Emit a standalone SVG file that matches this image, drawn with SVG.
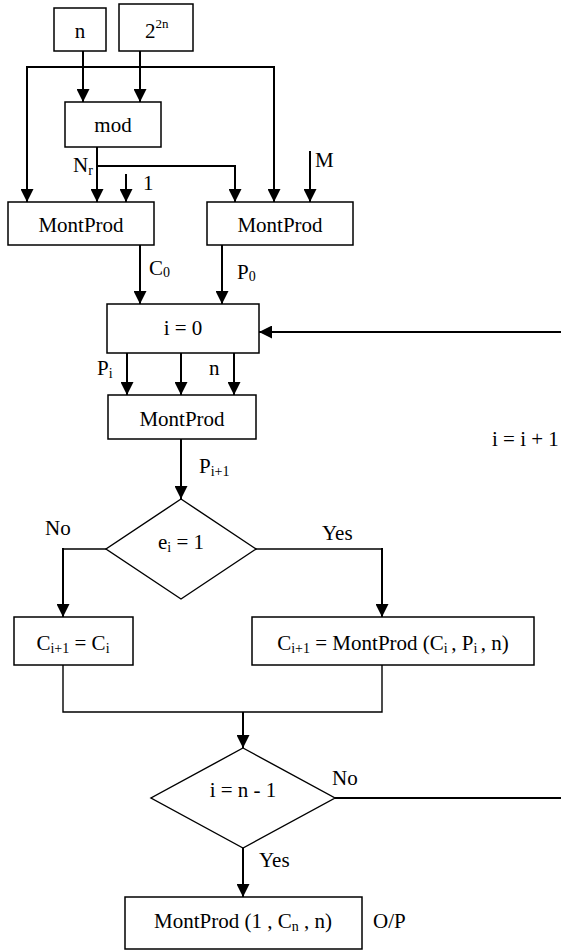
<svg xmlns="http://www.w3.org/2000/svg" width="561" height="951" viewBox="0 0 561 951" font-family="'Liberation Serif', 'Times New Roman', serif">
  <defs>
    <marker id="arrow" markerUnits="userSpaceOnUse" markerWidth="13" markerHeight="13" refX="13" refY="6.5" orient="auto">
      <path d="M0,0 L13,6.5 L0,13 Z" fill="#000"/>
    </marker>
    <style>
      text { font-family: "Liberation Serif", "Times New Roman", serif; font-size: 21px; fill: #000; }
      .mid { text-anchor: middle; }
      .box { fill: #fff; stroke: #000; stroke-width: 1.5; }
      .flow { fill: none; stroke: #000; stroke-width: 2; }
      .thin { fill: none; stroke: #000; stroke-width: 1.4; }
      .arr { marker-end: url(#arrow); }
      .sub { font-size: 14px; }
      .sup { font-size: 13px; }
    </style>
  </defs>

  <rect width="561" height="951" fill="#fff"/>

  <!-- connectors -->
  <g id="connectors">
    <path class="flow arr" d="M83,51 V102"/>
    <path class="flow arr" d="M140,51 V102"/>
    <path class="flow arr" d="M27,202 V67 H274 V202"/>
    <path class="flow arr" d="M27,67 V202"/>
    <path class="flow arr" d="M97,147 V202"/>
    <path class="flow arr" d="M97,166 H235 V202"/>
    <path class="flow arr" d="M126,174 V202"/>
    <path class="flow arr" d="M310,151 V202"/>
    <path class="flow arr" d="M140,245 V304"/>
    <path class="flow arr" d="M222,245 V304"/>
    <path class="flow arr" d="M561,332 H259"/>
    <path class="flow arr" d="M127,353 V395"/>
    <path class="flow arr" d="M181,353 V395"/>
    <path class="flow arr" d="M234,353 V395"/>
    <path class="flow arr" d="M181,439 V499"/>
    <path class="thin" d="M106,549 H63"/>
    <path class="flow arr" d="M63,548 V617"/>
    <path class="thin" d="M256,549 H382"/>
    <path class="flow arr" d="M382,548 V617"/>
    <path class="thin" d="M63,665 V712 H382 V665"/>
    <path class="flow arr" d="M243,712 V748"/>
    <path class="flow" d="M335,798 H561"/>
    <path class="flow arr" d="M243,848 V897"/>
  </g>

  <!-- connector labels -->
  <g id="labels">
    <text x="73" y="172">N<tspan class="sub" dy="3">r</tspan></text>
    <text x="143" y="190">1</text>
    <text x="315" y="167">M</text>
    <text x="149" y="275">C<tspan class="sub" dy="2">0</tspan></text>
    <text x="237" y="279">P<tspan class="sub" dy="2">0</tspan></text>
    <text x="97" y="375">P<tspan class="sub" dy="3">i</tspan></text>
    <text x="209" y="375">n</text>
    <text x="199" y="473">P<tspan class="sub" dy="3">i+1</tspan></text>
    <text x="492" y="446">i = i + 1</text>
    <text x="45" y="535">No</text>
    <text x="322" y="540">Yes</text>
    <text x="332" y="785">No</text>
    <text x="259" y="867">Yes</text>
    <text x="373" y="928">O/P</text>
  </g>

  <g id="node-n">
    <rect class="box" x="54" y="8" width="52" height="43"/>
    <text class="mid" x="80" y="38">n</text>
  </g>

  <g id="node-pow">
    <rect class="box" x="119" y="4" width="74" height="47"/>
    <text x="145" y="38">2<tspan class="sup" dy="-10">2n</tspan></text>
  </g>

  <g id="node-mod">
    <rect class="box" x="65" y="102" width="96" height="45"/>
    <text class="mid" x="113" y="132">mod</text>
  </g>

  <g id="node-montprod-c0">
    <rect class="box" x="8" y="202" width="146" height="43"/>
    <text class="mid" x="81" y="232">MontProd</text>
  </g>

  <g id="node-montprod-p0">
    <rect class="box" x="207" y="202" width="146" height="43"/>
    <text class="mid" x="280" y="232">MontProd</text>
  </g>

  <g id="node-init">
    <rect class="box" x="107" y="304" width="152" height="49"/>
    <text class="mid" x="183" y="335">i = 0</text>
  </g>

  <g id="node-montprod-p">
    <rect class="box" x="108" y="395" width="148" height="44"/>
    <text class="mid" x="182" y="426">MontProd</text>
  </g>

  <g id="node-test-e">
    <polygon class="thin" points="181,499 256,549 181,599 106,549" fill="#fff"/>
    <text class="mid" x="181" y="549">e<tspan class="sub" dy="3">i</tspan><tspan dy="-3"> = 1</tspan></text>
  </g>

  <g id="node-keep">
    <rect class="box" x="14" y="617" width="119" height="48"/>
    <text class="mid" x="73" y="650">C<tspan class="sub" dy="3">i+1</tspan><tspan dy="-3"> = C</tspan><tspan class="sub" dy="3">i</tspan></text>
  </g>

  <g id="node-update">
    <rect class="box" x="252" y="617" width="282" height="48"/>
    <text class="mid" x="393" y="650">C<tspan class="sub" dy="3">i+1</tspan><tspan dy="-3"> = MontProd (C</tspan><tspan class="sub" dy="3">i </tspan><tspan dy="-3">, P</tspan><tspan class="sub" dy="3">i </tspan><tspan dy="-3">, n)</tspan></text>
  </g>

  <g id="node-test-i">
    <polygon class="thin" points="243,748 335,798 243,848 151,798" fill="#fff"/>
    <text class="mid" x="243" y="797">i = n - 1</text>
  </g>

  <g id="node-final">
    <rect class="box" x="125" y="897" width="237" height="52"/>
    <text class="mid" x="243" y="928">MontProd (1 , C<tspan class="sub" dy="3">n</tspan><tspan dy="-3"> , n)</tspan></text>
  </g>
</svg>
